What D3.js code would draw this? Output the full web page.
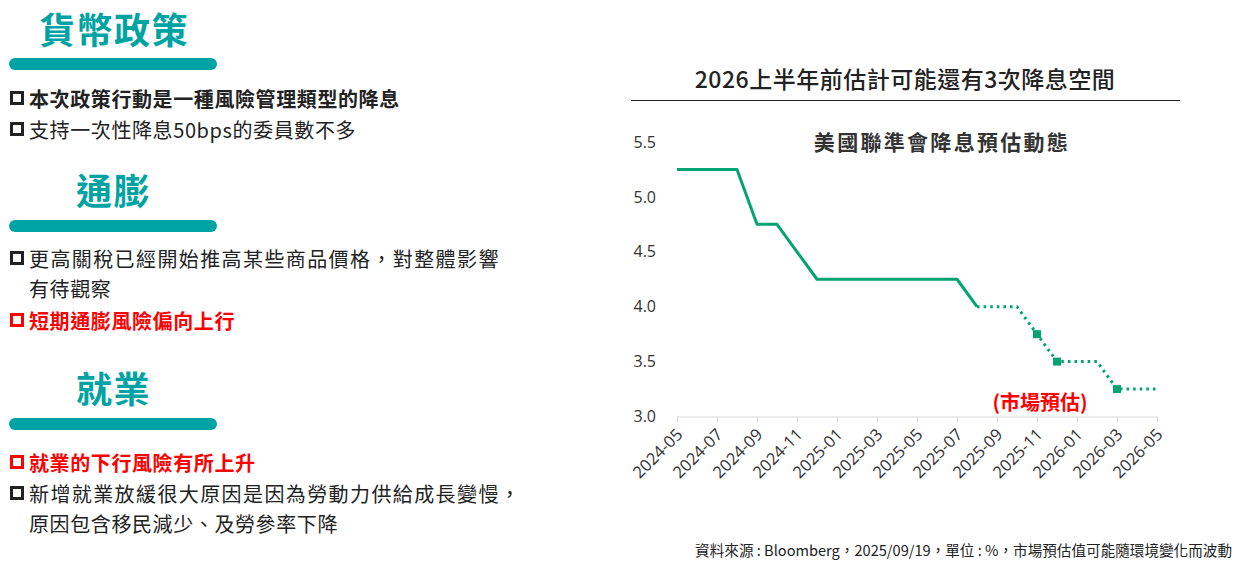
<!DOCTYPE html>
<html>
<head>
<meta charset="utf-8">
<script src="https://cdn.jsdelivr.net/npm/d3@7"></script>
<style>
  html, body { margin: 0; padding: 0; background: #ffffff; }
  svg { display: block; font-family: "Noto Sans CJK TC", "Noto Sans", sans-serif; }
</style>
</head>
<body>
<div id="page"></div>
<script>
// monthly fed funds upper bound (actual) and market forecast
const actualMonths = ["2024-05","2024-06","2024-07","2024-08","2024-09","2024-10","2024-11","2024-12",
                      "2025-01","2025-02","2025-03","2025-04","2025-05","2025-06","2025-07","2025-08"];
const actualRates = [5.25,5.25,5.25,5.25,4.75,4.75,4.5,4.25,4.25,4.25,4.25,4.25,4.25,4.25,4.25,4.0];

const forecastMonths = ["2025-08","2025-09","2025-10","2025-11","2025-12","2026-01","2026-02","2026-03","2026-04","2026-05"];
const forecastRates = [4.0,4.0,4.0,3.75,3.5,3.5,3.5,3.25,3.25,3.25];

const markerMonths = ["2025-11","2025-12","2026-03"];

const xTickLabels = ["2024-05","2024-07","2024-09","2024-11","2025-01","2025-03","2025-05",
                     "2025-07","2025-09","2025-11","2026-01","2026-03","2026-05"];
const yTickValues = [3.0,3.5,4.0,4.5,5.0,5.5];

const pageTitle = "2026上半年前估計可能還有3次降息空間";
const chartTitle = "美國聯準會降息預估動態";
const forecastNote = "(市場預估)";
const sourceNote = "資料來源 : Bloomberg，2025/09/19，單位 : %，市場預估值可能隨環境變化而波動";

// left column text
const headings = ["貨幣政策", "通膨", "就業"];
const bulletTexts = [
    ["本次政策行動是一種風險管理類型的降息", "支持一次性降息50bps的委員數不多"],
    ["更高關稅已經開始推高某些商品價格，對整體影響|有待觀察", "短期通膨風險偏向上行"],
    ["就業的下行風險有所上升", "新增就業放緩很大原因是因為勞動力供給成長變慢，|原因包含移民減少、及勞參率下降"]
];
const bulletKinds = [["bold","normal"],["normal","red"],["red","normal"]];

function init() {
    const w = 1237;
    const h = 561;
    const teal = "#00a3a3";
    const green = "#03a472";

    var svg = d3.select("#page").append("svg")
                .attr("width", w)
                .attr("height", h);

    // ---------- left column ----------
    const headingPos = [{x: 39, y: 28}, {x: 76, y: 189}, {x: 76, y: 387}];
    const barY = [64, 226, 424];
    const lineY = [[98, 129], [258, 320], [462, 493]];

    headings.forEach(function(hd, i) {
        svg.append("text")
            .attr("x", headingPos[i].x)
            .attr("y", headingPos[i].y)
            .attr("dominant-baseline", "central")
            .attr("fill", teal)
            .style("font-size", "36px")
            .style("font-weight", "bold")
            .style("letter-spacing", "1.5px")
            .text(hd);

        svg.append("rect")
            .attr("x", 9)
            .attr("y", barY[i] - 6)
            .attr("width", 208)
            .attr("height", 12)
            .attr("rx", 6)
            .attr("fill", teal);

        bulletTexts[i].forEach(function(t, j) {
            const kind = bulletKinds[i][j];
            const col = kind == "red" ? "#ff0000" : "#222222";
            const cy = lineY[i][j];

            svg.append("rect")
                .attr("x", 11.5)
                .attr("y", cy - 5.5)
                .attr("width", 11)
                .attr("height", 11)
                .attr("fill", "none")
                .attr("stroke", col)
                .attr("stroke-width", 3);

            const parts = t.split("|");
            parts.forEach(function(part, k) {
                //wrapped first lines are spread wider in the original
                const spacing = (parts.length > 1 && k == 0) ? "1.4px" : "0.6px";
                svg.append("text")
                    .attr("x", 29)
                    .attr("y", cy + k * 30)
                    .attr("dominant-baseline", "central")
                    .attr("fill", col)
                    .style("font-size", "20px")
                    .style("letter-spacing", spacing)
                    .style("font-weight", kind == "normal" ? "normal" : "bold")
                    .text(part);
            });
        });
    });

    // ---------- right chart ----------
    svg.append("text")
        .attr("x", 905)
        .attr("y", 78)
        .attr("text-anchor", "middle")
        .attr("dominant-baseline", "central")
        .attr("fill", "#222222")
        .style("font-size", "23px")
        .style("font-weight", "500")
        .style("letter-spacing", "0.5px")
        .text(pageTitle);

    svg.append("line")
        .attr("x1", 631).attr("x2", 1180)
        .attr("y1", 100.5).attr("y2", 100.5)
        .attr("stroke", "#222222")
        .attr("stroke-width", 1.2);

    svg.append("text")
        .attr("x", 942)
        .attr("y", 141)
        .attr("text-anchor", "middle")
        .attr("dominant-baseline", "central")
        .attr("fill", "#333333")
        .style("font-size", "21px")
        .style("font-weight", "bold")
        .style("letter-spacing", "2.3px")
        .text(chartTitle);

    const allMonths = actualMonths.concat(forecastMonths.slice(1));

    const xScale = d3.scalePoint()
                .domain(allMonths)
                .range([677, 1157]);

    const yScale = d3.scaleLinear()
                .domain([3.0, 5.5])
                .range([416.5, 142]);

    // x axis
    var xAxis = svg.append("g")
        .attr("transform", "translate(0,416.5)")
        .call(d3.axisBottom(xScale).tickValues(xTickLabels).tickSize(6).tickSizeOuter(0));
    xAxis.select(".domain").attr("stroke", "#d9d9d9");
    xAxis.selectAll(".tick line").attr("stroke", "#d9d9d9");
    xAxis.selectAll(".tick text")
        .attr("fill", "#333333")
        .style("font-size", "16.5px")
        .style("font-family", "'Open Sans', 'Noto Sans', sans-serif")
        .attr("text-anchor", "end")
        .attr("x", 0)
        .attr("y", 0)
        .attr("dy", "0.35em")
        .attr("transform", "translate(2,15) rotate(-45)");

    // y axis (labels only)
    var yAxis = svg.append("g")
        .attr("transform", "translate(656,0)")
        .call(d3.axisLeft(yScale).tickValues(yTickValues).tickFormat(d3.format(".1f")).tickSize(0));
    yAxis.select(".domain").remove();
    yAxis.selectAll(".tick text")
        .attr("fill", "#333333")
        .attr("x", 0)
        .style("font-size", "16px")
        .style("font-family", "'Open Sans', 'Noto Sans', sans-serif");

    var line = d3.line()
        .x(function(d) { return xScale(d.m); })
        .y(function(d) { return yScale(d.v); });

    const actual = actualMonths.map(function(m, i) { return {m: m, v: actualRates[i]}; });
    const forecast = forecastMonths.map(function(m, i) { return {m: m, v: forecastRates[i]}; });

    svg.append("path")
        .datum(actual)
        .attr("d", line)
        .attr("fill", "none")
        .attr("stroke", green)
        .attr("stroke-width", 3)
        .attr("stroke-linejoin", "round");

    svg.append("path")
        .datum(forecast)
        .attr("d", line)
        .attr("fill", "none")
        .attr("stroke", green)
        .attr("stroke-width", 3)
        .attr("stroke-dasharray", "2.6 4");

    svg.append("g")
        .selectAll("rect")
        .data(forecast.filter(function(d) { return markerMonths.includes(d.m); }))
        .enter()
        .append("rect")
        .attr("x", function(d) { return xScale(d.m) - 4; })
        .attr("y", function(d) { return yScale(d.v) - 4; })
        .attr("width", 8)
        .attr("height", 8)
        .attr("fill", green);

    svg.append("text")
        .attr("x", 1040)
        .attr("y", 401)
        .attr("text-anchor", "middle")
        .attr("dominant-baseline", "central")
        .attr("fill", "#ff0000")
        .style("font-size", "20px")
        .style("font-weight", "bold")
        .text(forecastNote);

    svg.append("text")
        .attr("x", 1232)
        .attr("y", 549)
        .attr("text-anchor", "end")
        .attr("dominant-baseline", "central")
        .attr("fill", "#222222")
        .style("font-size", "14.6px")
        .text(sourceNote);
}

window.onload = init();
</script>
</body>
</html>
